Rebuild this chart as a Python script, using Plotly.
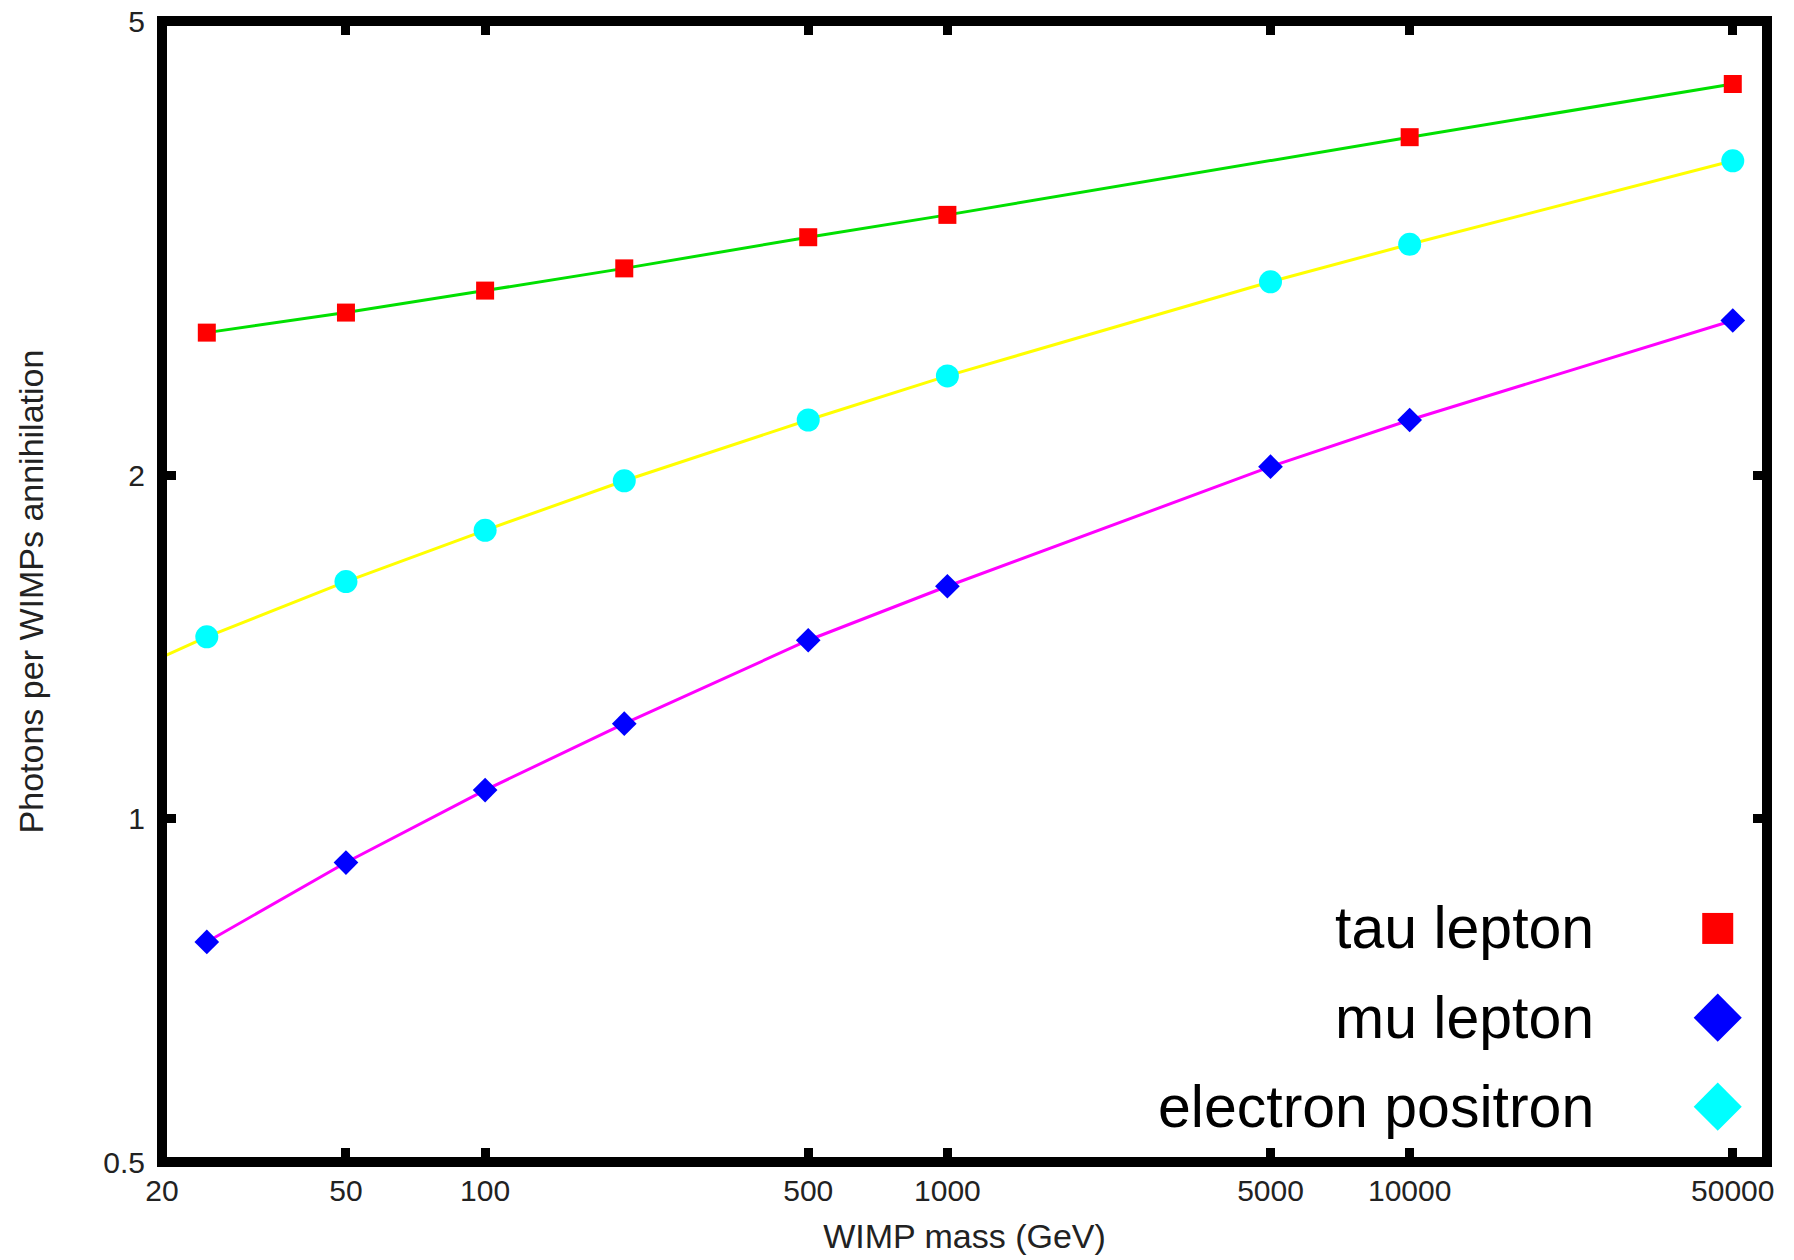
import plotly.graph_objects as go

# ---- data ----
mass_tau = [25, 50, 100, 200, 500, 1000, 10000, 50000]
photons_tau = [2.666, 2.776, 2.902, 3.035, 3.232, 3.381, 3.955, 4.403]

mass_mu = [25, 50, 100, 200, 500, 1000, 5000, 10000, 50000]
photons_mu = [0.7795, 0.915, 1.059, 1.211, 1.433, 1.598, 2.034, 2.235, 2.732]

mass_e = [25, 50, 100, 200, 500, 1000, 5000, 10000, 50000]
photons_e = [1.443, 1.613, 1.789, 1.977, 2.235, 2.443, 2.954, 3.186, 3.771]

# the electron curve is drawn from the left edge of the plot
line_mass_e = [20] + mass_e
line_photons_e = [1.385] + photons_e

x_ticks = [20, 50, 100, 500, 1000, 5000, 10000, 50000]
x_ticklabels = ["20", "50", "100", "500", "1000", "5000", "10000", "50000"]
y_ticks = [0.5, 1, 2, 5]
y_ticklabels = ["0.5", "1", "2", "5"]

legend_names = ["tau lepton", "mu lepton", "electron positron"]

FONT = "Liberation Sans, Arial, sans-serif"

fig = go.Figure()

# fitted lines
fig.add_trace(go.Scatter(x=mass_tau, y=photons_tau, mode="lines",
                         line=dict(color="#00e000", width=3), showlegend=False))
fig.add_trace(go.Scatter(x=line_mass_e, y=line_photons_e, mode="lines",
                         line=dict(color="#ffff00", width=3), showlegend=False))
fig.add_trace(go.Scatter(x=mass_mu, y=photons_mu, mode="lines",
                         line=dict(color="#ff00ff", width=3), showlegend=False))

# points
fig.add_trace(go.Scatter(x=mass_tau, y=photons_tau, mode="markers",
                         marker=dict(symbol="square", size=18, color="#ff0000"),
                         showlegend=False))
fig.add_trace(go.Scatter(x=mass_mu, y=photons_mu, mode="markers",
                         marker=dict(symbol="diamond", size=19, color="#0000ff"),
                         showlegend=False))
fig.add_trace(go.Scatter(x=mass_e, y=photons_e, mode="markers",
                         marker=dict(symbol="circle", size=23, color="#00ffff"),
                         showlegend=False))

# custom legend (symbols to the right of the labels)
leg_y = [0.2047, 0.1265, 0.0485]
leg_sym = [("square", 31, "#ff0000"), ("diamond", 37, "#0000ff"), ("diamond", 37, "#00ffff")]
for name, yy, (sym, sz, col) in zip(legend_names, leg_y, leg_sym):
    fig.add_trace(go.Scatter(x=[0.9693], y=[yy], xaxis="x2", yaxis="y2", mode="markers",
                             marker=dict(symbol=sym, size=sz, color=col),
                             showlegend=False, hoverinfo="skip"))
    fig.add_annotation(x=0.8936, y=yy, xref="paper", yref="paper", text=name,
                       showarrow=False, xanchor="right", yanchor="middle",
                       font=dict(family=FONT, size=59, color="#000000"))

# thick frame centred on the plot-area edges
fig.add_shape(type="rect", xref="paper", yref="paper", x0=0, x1=1, y0=0, y1=1,
              line=dict(color="#000000", width=10), fillcolor="rgba(0,0,0,0)",
              layer="above")

axis_common = dict(
    showline=False, mirror="ticks", automargin=False,
    ticks="inside", ticklen=14, tickwidth=9, tickcolor="#000000",
    showgrid=False, zeroline=False,
    tickfont=dict(family=FONT, size=30, color="#222222"),
)

fig.update_layout(
    width=1794, height=1260,
    paper_bgcolor="#ffffff", plot_bgcolor="#ffffff",
    margin=dict(l=162, r=27, t=21, b=98),
    showlegend=False,
    xaxis=dict(type="log", range=[1.30103, 4.773],
               tickvals=x_ticks, ticktext=x_ticklabels, ticklabelstandoff=8,
               title=dict(text="WIMP mass (GeV)", standoff=18,
                          font=dict(family=FONT, size=34, color="#222222")),
               **axis_common),
    yaxis=dict(type="log", range=[-0.30103, 0.69897],
               tickvals=y_ticks, ticktext=y_ticklabels, ticklabelstandoff=16,
               title=dict(text="Photons per WIMPs annihilation", standoff=49,
                          font=dict(family=FONT, size=34, color="#222222")),
               **axis_common),
    xaxis2=dict(overlaying="x", range=[0, 1], visible=False),
    yaxis2=dict(overlaying="y", range=[0, 1], visible=False),
)

fig.write_html("out.html")
